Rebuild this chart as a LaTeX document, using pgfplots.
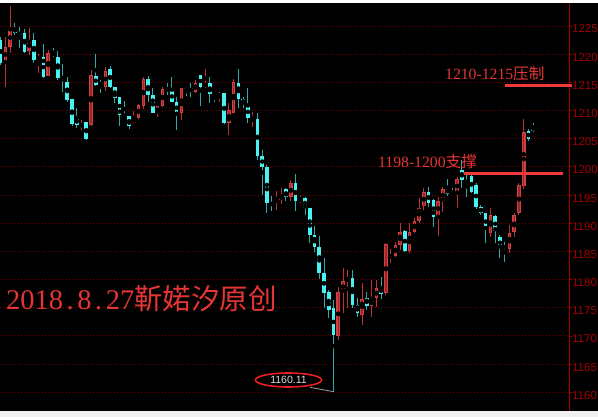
\documentclass[border=0pt]{standalone}
\usepackage{pgfplots}
\pgfplotsset{compat=1.18}
\usepackage{pgfplotstable}
\usepackage{fontspec}
\setmainfont{Liberation Sans}
\newfontfamily\cjk{Noto Sans CJK SC}
\newfontfamily\serifd{Liberation Serif}
\newcommand\hd{\makebox[0.5em][c]{.}}

\definecolor{gridred}{HTML}{7A0000}
\definecolor{axisred}{HTML}{A00000}
\definecolor{notered}{HTML}{E53535}
\definecolor{linered}{HTML}{F23A3A}
\definecolor{ringred}{HTML}{E82020}
\definecolor{cbody}{HTML}{48F2F2}
\definecolor{cwick}{HTML}{30A8A8}
\definecolor{redge}{HTML}{D04040}
\definecolor{rfill}{HTML}{9A2828}
\definecolor{rwick}{HTML}{B83434}

% rising candles: index, open, high, low, close
\pgfplotstableread{
i o h l c
2 1218.6 1223.0 1214.2 1221.3
3 1221.3 1228.6 1220.2 1224.6
7 1220.6 1224.6 1219.8 1222.5
9 1218.9 1220.0 1216.7 1219.5
11 1216.1 1220.7 1216.1 1220.2
18 1206.9 1208.3 1206.5 1207.8
20 1207.4 1217.2 1207.2 1216.3
23 1214.2 1217.7 1213.5 1217.0
29 1207.8 1210.0 1207.6 1208.5
30 1208.7 1211.2 1208.5 1211.0
31 1210.8 1215.9 1210.3 1215.6
34 1209.5 1210.8 1208.8 1210.8
35 1210.8 1214.2 1210.6 1213.8
39 1209.5 1214.0 1208.3 1214.0
42 1213.3 1215.4 1213.1 1214.9
44 1214.2 1217.4 1214.0 1214.9
47 1212.4 1213.3 1211.5 1212.9
49 1207.8 1211.3 1205.6 1210.1
50 1209.5 1215.6 1209.5 1215.0
54 1208.5 1209.7 1207.0 1208.8
59 1194.1 1195.7 1192.3 1194.5
60 1194.1 1196.2 1193.4 1195.0
62 1194.6 1197.6 1194.0 1197.1
64 1194.1 1195.0 1193.6 1194.5
72 1170.0 1178.6 1169.3 1177.8
73 1177.8 1182.0 1174.0 1179.7
74 1179.8 1181.7 1174.9 1180.2
77 1173.8 1179.4 1172.0 1176.6
79 1175.3 1179.9 1173.3 1176.5
80 1176.7 1180.0 1175.1 1178.5
82 1177.6 1186.5 1177.2 1186.3
83 1184.0 1185.4 1182.9 1184.2
84 1184.2 1186.6 1184.0 1186.1
85 1186.1 1190.0 1185.2 1188.4
87 1185.0 1190.1 1184.7 1188.4
88 1188.4 1190.9 1188.2 1190.4
89 1190.4 1194.4 1190.0 1192.8
90 1193.0 1196.2 1192.3 1195.5
93 1191.3 1194.6 1187.7 1193.9
94 1193.9 1196.5 1192.0 1196.0
97 1195.3 1198.2 1192.7 1197.9
104 1188.2 1192.8 1187.5 1191.4
108 1185.4 1189.6 1184.7 1188.2
109 1188.4 1191.8 1187.5 1191.4
110 1191.8 1197.1 1191.4 1196.8
111 1196.6 1208.5 1196.0 1206.2
}\upbars

% falling candles: index, open, high, low, close
\pgfplotstableread{
i o h l c
1 1222.5 1223.0 1218.0 1218.4
4 1224.6 1225.5 1223.4 1223.8
5 1223.8 1224.8 1221.1 1223.4
6 1223.8 1224.5 1220.2 1220.4
8 1222.5 1223.8 1218.4 1219.0
10 1219.5 1221.8 1215.8 1215.9
12 1220.2 1221.1 1219.5 1219.8
13 1219.5 1220.6 1215.4 1215.8
14 1215.9 1218.3 1213.3 1215.2
15 1215.0 1215.9 1211.5 1211.9
16 1212.0 1212.0 1207.2 1207.6
17 1208.7 1210.4 1206.9 1207.4
19 1208.0 1208.0 1204.7 1205.0
21 1216.1 1220.0 1214.3 1214.5
22 1214.9 1215.4 1213.1 1214.5
24 1217.4 1217.9 1214.0 1214.2
25 1214.2 1214.2 1211.3 1212.2
26 1212.4 1212.4 1207.2 1209.2
27 1209.4 1211.7 1208.8 1208.8
28 1209.0 1209.0 1206.7 1207.2
32 1215.6 1216.1 1211.5 1212.7
33 1212.7 1214.0 1209.5 1209.5
36 1214.0 1214.9 1212.7 1213.5
37 1213.5 1215.9 1211.5 1211.5
38 1211.5 1212.4 1206.5 1209.5
40 1214.0 1214.2 1212.6 1213.5
41 1214.0 1214.9 1212.4 1213.3
43 1216.3 1216.3 1210.8 1214.2
45 1214.9 1215.9 1211.3 1212.9
46 1212.9 1212.9 1211.5 1212.4
48 1213.1 1213.1 1207.6 1207.8
51 1214.9 1217.4 1210.4 1212.0
52 1212.0 1212.4 1210.4 1211.3
53 1210.8 1214.0 1207.8 1208.7
55 1208.5 1209.5 1201.2 1201.9
56 1201.9 1203.0 1195.0 1200.0
57 1200.0 1200.3 1191.8 1193.6
58 1193.6 1194.8 1192.1 1193.2
61 1196.0 1196.2 1194.0 1194.6
63 1197.1 1198.7 1192.1 1193.9
65 1194.5 1194.6 1191.4 1192.7
66 1192.7 1192.7 1186.5 1187.9
67 1187.9 1189.5 1184.9 1185.7
68 1185.7 1187.7 1180.2 1181.1
69 1181.1 1183.8 1174.9 1177.6
70 1177.8 1178.1 1173.2 1174.6
71 1174.9 1176.3 1160.11 1170.1
75 1180.2 1181.7 1174.9 1175.4
76 1175.4 1176.8 1173.3 1174.0
78 1176.8 1177.8 1174.7 1175.3
81 1178.6 1180.4 1176.5 1177.4
86 1188.6 1188.8 1184.9 1185.0
91 1195.5 1196.4 1192.8 1193.6
92 1194.1 1194.3 1189.4 1191.1
95 1196.2 1197.8 1194.8 1195.1
96 1195.3 1196.2 1194.8 1195.0
98 1199.4 1201.2 1196.2 1197.6
99 1197.6 1198.5 1194.6 1197.1
100 1198.3 1198.5 1195.3 1195.5
101 1196.8 1197.1 1192.5 1192.9
102 1192.9 1193.2 1191.4 1191.8
103 1191.8 1191.8 1186.5 1188.8
105 1191.2 1191.4 1186.5 1188.6
106 1187.5 1187.9 1183.8 1185.6
107 1185.8 1186.6 1183.1 1185.6
112 1206.4 1206.7 1204.6 1204.9
113 1207.1 1207.8 1206.2 1206.4
}\downbars

\pgfplotsset{
  wick/.style={only marks, mark=none, forget plot,
    error bars/.cd, y dir=both, y explicit, error mark=none,
    error bar style={line width=1pt, color=#1}},
  body/.style 2 args={only marks, mark=none, forget plot,
    error bars/.cd, y dir=both, y explicit, error mark=none,
    error bar style={line width=#2, color=#1}},
}

\begin{document}
\begin{tikzpicture}
\fill[white!94!black] (0pt,0pt) rectangle (598pt,417pt);
\fill[white] (0pt,414pt) rectangle (598pt,417pt);
\fill[black] (0pt,6pt) rectangle (598pt,414pt);
\useasboundingbox (0pt,0pt) rectangle (598pt,417pt);
\begin{axis}[
  at={(0pt,6pt)}, anchor=south west,
  scale only axis, width=569pt, height=408pt,
  xmin=0.853, xmax=120.52, ymin=1156.68, ymax=1229.08,
  clip=false,
  axis x line=none,
  axis y line*=right,
  y axis line style={color=axisred, line width=1pt},
  xtick=\empty,
  ytick={1160,1165,...,1225},
  tick align=outside,
  major tick length=3pt,
  y tick style={color=axisred, line width=0.8pt},
  ymajorgrids,
  major grid style={color=gridred, line width=0.9pt, dash pattern=on 0.9pt off 2.1pt},
  /pgf/number format/assume math mode=true,
  /pgf/number format/1000 sep={},
  yticklabel style={font=\fontsize{11.5}{12}\selectfont, color=axisred,
    anchor=west, inner sep=0pt, xshift=0pt, yshift=-3pt},
]
% wicks
\addplot[wick=rwick] table[x=i, y expr={(\thisrow{h}+\thisrow{l})/2},
  y error expr={(\thisrow{h}-\thisrow{l})/2}] {\upbars};
\addplot[wick=cwick] table[x=i, y expr={(\thisrow{h}+\thisrow{l})/2},
  y error expr={(\thisrow{h}-\thisrow{l})/2}] {\downbars};
% bodies
\addplot[body={redge}{3.6pt}] table[x=i, y expr={(\thisrow{o}+\thisrow{c})/2},
  y error expr={max(abs(\thisrow{c}-\thisrow{o})/2,0.1)}] {\upbars};
\addplot[body={rfill}{1.4pt}] table[x=i, y expr={(\thisrow{o}+\thisrow{c})/2},
  y error expr={max(abs(\thisrow{c}-\thisrow{o})/2-0.15,0.01)}] {\upbars};
\addplot[body={cbody}{3.6pt}] table[x=i, y expr={(\thisrow{o}+\thisrow{c})/2},
  y error expr={max(abs(\thisrow{c}-\thisrow{o})/2,0.1)}] {\downbars};

% resistance and support levels
\addplot[linered, line width=3.5pt, forget plot] coordinates {(107.06,1214.4) (121.15,1214.4)};
\addplot[linered, line width=3.5pt, forget plot] coordinates {(98.43,1198.86) (119.2,1198.86)};

% low marker: leader line, ring and value
\addplot[gray!75, line width=0.8pt, forget plot] coordinates {(66.05,1160.88) (71,1160.11)};
\addplot[ringred, line width=1.6pt, forget plot, domain=0:360, samples=73, smooth,
  variable=\t] ({61.53+6.94*cos(\t)}, {1162.18+1.24*sin(\t)});
\node[inner sep=0pt, text=white!86!black, font=\fontsize{10.5}{11}\selectfont]
  at (axis cs:61.53,1162.18) {1160.11};

\node[anchor=west, inner sep=0pt, text=notered, font=\fontsize{15.7}{16}\selectfont]
  at (axis cs:94.44,1216.5) {{\serifd 1210-1215}{\cjk 压制}};
\node[anchor=west, inner sep=0pt, text=notered, font=\fontsize{15.7}{16}\selectfont]
  at (axis cs:80.35,1201.0) {{\serifd 1198-1200}{\cjk 支撑}};
\node[anchor=west, inner sep=0pt, text=notered, font=\fontsize{28.5}{30}\selectfont]
  at (axis cs:2.11,1176.6) {{\serifd 2018\hd 8\hd 27}{\cjk 靳婼汐原创}};
\end{axis}
\end{tikzpicture}
\end{document}
